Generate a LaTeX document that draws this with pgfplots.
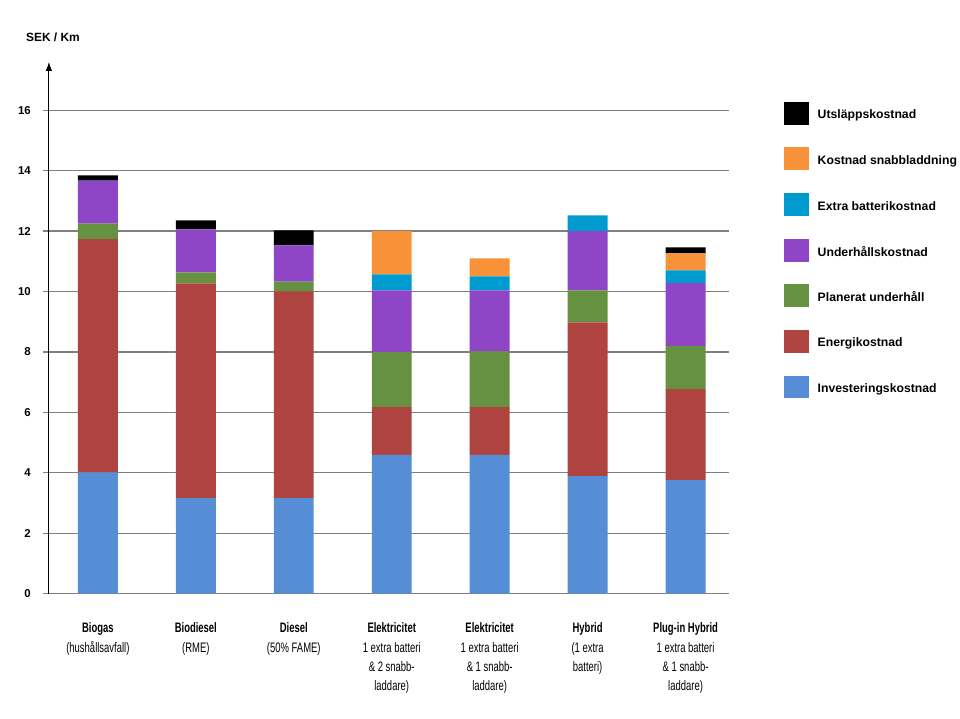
\documentclass[border=0pt]{standalone}
\usepackage{pgfplots}
\pgfplotsset{compat=1.18}
\usepackage{pgfplotstable}
\usepackage{fontspec}
\setmainfont{Liberation Sans}
\newfontfamily\narrowfont[FakeStretch=0.69]{Liberation Sans}
\usetikzlibrary{arrows.meta}

\definecolor{cInv}{RGB}{85,142,213}
\definecolor{cEne}{RGB}{174,67,64}
\definecolor{cPla}{RGB}{102,145,64}
\definecolor{cUnd}{RGB}{142,70,198}
\definecolor{cBat}{RGB}{0,155,206}
\definecolor{cSna}{RGB}{247,146,57}
\definecolor{cUts}{RGB}{0,0,0}
\definecolor{cGrid}{RGB}{128,128,128}

\pgfplotstableread{
x invest energy planned underh extra snabb utsl
0 4.01 7.72 0.52 1.42 0    0    0.17
1 3.16 7.11 0.36 1.43 0    0    0.29
2 3.16 6.84 0.33 1.20 0    0    0.49
3 4.59 1.58 1.82 2.05 0.53 1.43 0
4 4.59 1.58 1.85 2.02 0.46 0.60 0
5 3.89 5.09 1.06 1.97 0.51 0    0
6 3.76 3.01 1.42 2.09 0.42 0.56 0.20
}\datatable

\begin{document}
\begin{tikzpicture}
\begin{axis}[
  scale only axis,
  width=681bp, height=532.7bp,
  xmin=-0.5, xmax=6.44,
  ymin=0, ymax=17.6,
  ybar stacked,
  bar width=40bp,
  axis lines=left,
  x axis line style={draw=none},
  y axis line style={-{Latex[length=9bp,width=6.5bp]}, line width=1.1bp, black},
  xtick=data,
  xtick style={draw=none},
  xticklabels={
    {\textbf{Biogas}\\(hushållsavfall)},
    {\textbf{Biodiesel}\\(RME)},
    {\textbf{Diesel}\\(50\% FAME)},
    {\textbf{Elektricitet}\\1 extra batteri\\\& 2 snabb-\\laddare)},
    {\textbf{Elektricitet}\\1 extra batteri\\\& 1 snabb-\\laddare)},
    {\textbf{Hybrid}\\(1 extra\\batteri)},
    {\textbf{Plug-in Hybrid}\\1 extra batteri\\\& 1 snabb-\\laddare)}
  },
  xticklabel style={align=center, anchor=north, inner sep=0pt, yshift=-23bp,
    font=\narrowfont\fontsize{13.8}{19.5}\selectfont},
  ytick={0,2,...,16},
  ymajorgrids,
  grid style={cGrid, line width=1.2bp},
  ytick style={cGrid, line width=1.2bp},
  tick align=outside,
  major tick length=6bp,
  /pgf/number format/assume math mode=true,
  yticklabel style={font=\bfseries\fontsize{11.5}{12}\selectfont, anchor=east, inner sep=0pt, xshift=-12bp},
  every axis plot/.append style={draw=none},
  reverse legend,
  legend cell align=left,
  legend style={
    at={(1.0764,0.929)}, anchor=north west,
    draw=none, fill=none,
    row sep=22.7bp,
    column sep=0pt,
    nodes={inner sep=0pt},
    /tikz/every odd column/.append style={column sep=9bp},
    font=\bfseries\fontsize{12.3}{13}\selectfont,
  },
  legend image code/.code={\fill[#1] (0bp,-9.7bp) rectangle (25bp,13.3bp);},
  clip=false,
]
\addplot[fill=cInv] table[x=x, y=invest] {\datatable};
\addlegendentry{Investeringskostnad}
\addplot[fill=cEne] table[x=x, y=energy] {\datatable};
\addlegendentry{Energikostnad}
\addplot[fill=cPla] table[x=x, y=planned] {\datatable};
\addlegendentry{Planerat underhåll}
\addplot[fill=cUnd] table[x=x, y=underh] {\datatable};
\addlegendentry{Underhållskostnad}
\addplot[fill=cBat] table[x=x, y=extra] {\datatable};
\addlegendentry{Extra batterikostnad}
\addplot[fill=cSna] table[x=x, y=snabb] {\datatable};
\addlegendentry{Kostnad snabbladdning}
\addplot[fill=cUts] table[x=x, y=utsl] {\datatable};
\addlegendentry{Utsläppskostnad}
\node[font=\bfseries\fontsize{12}{13}\selectfont, anchor=center] at (rel axis cs:0.006,1.047) {SEK / Km};
\end{axis}
\path[use as bounding box] (-49bp,-125.3bp) rectangle (911bp,594.7bp);
\end{tikzpicture}
\end{document}
